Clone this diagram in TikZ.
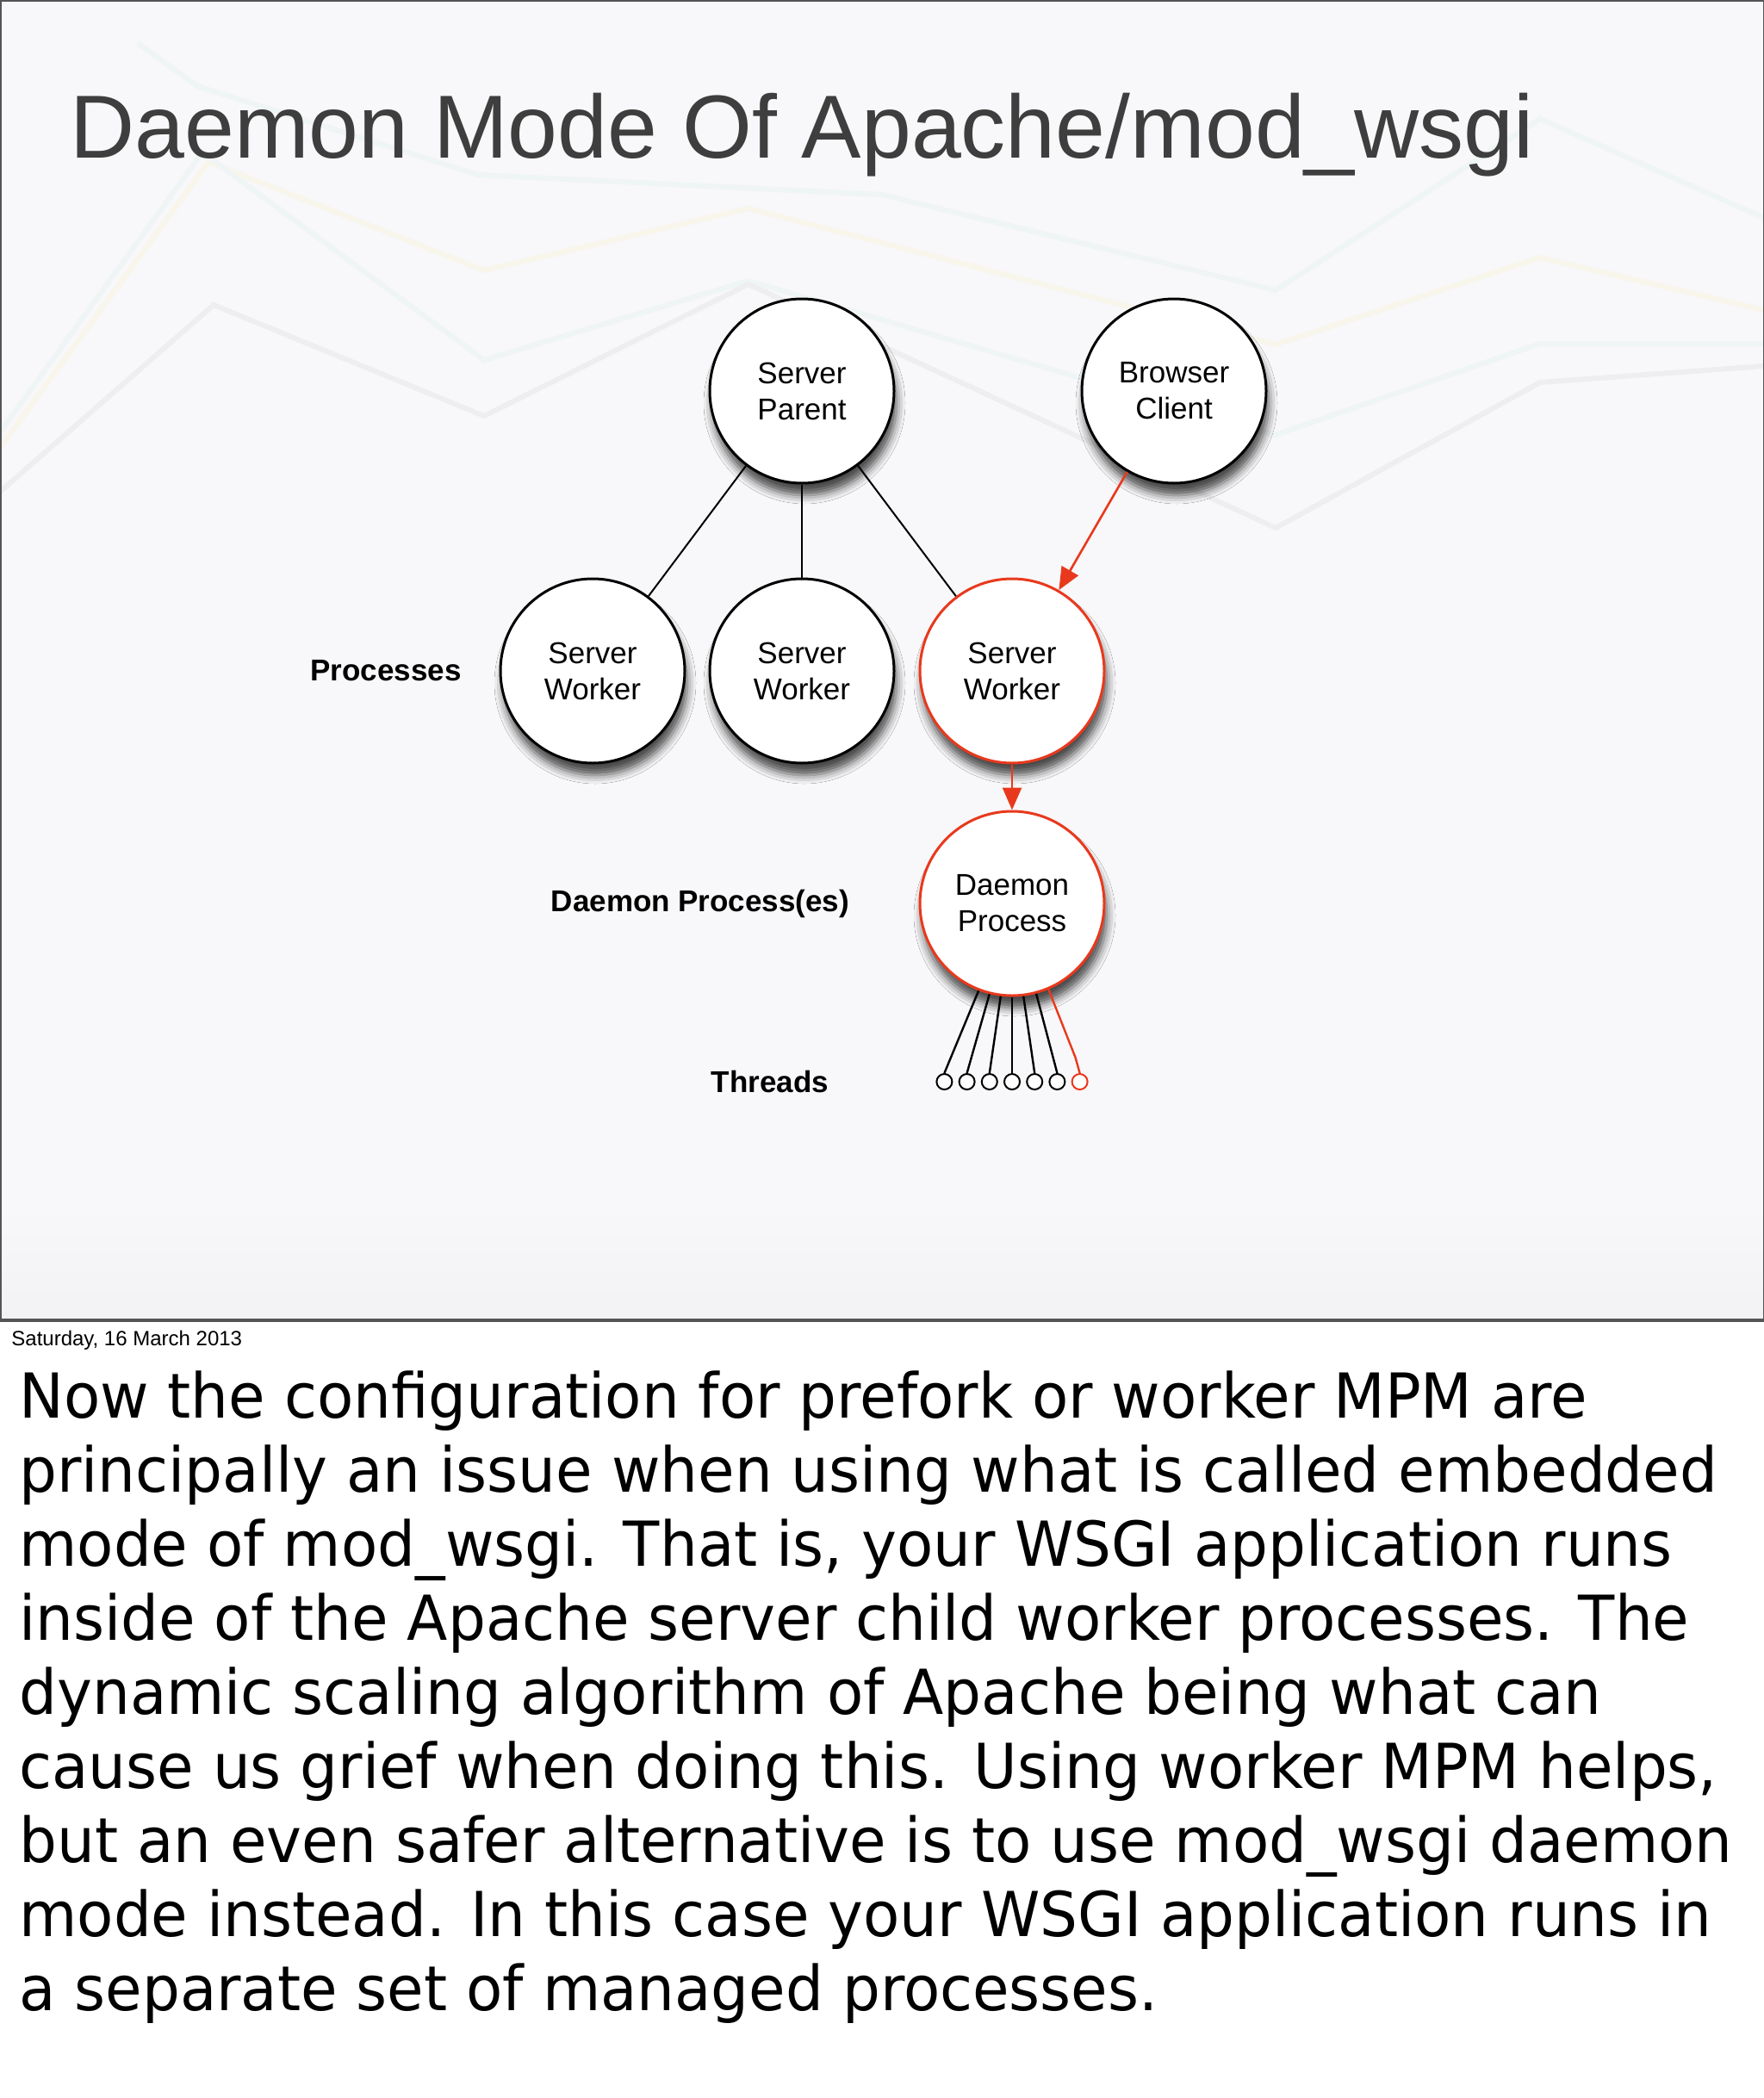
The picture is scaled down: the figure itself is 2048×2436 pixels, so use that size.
\documentclass[tikz,border=0pt]{standalone}
\usepackage{fontspec}
\setmainfont{Liberation Sans}
\newfontfamily\notefont{DejaVu Sans}[FakeStretch=0.96]
\usepackage{tikz}
\usetikzlibrary{arrows.meta,positioning,calc,shadows.blur}
\definecolor{cRed}{HTML}{E8391D}
\definecolor{cSlide}{HTML}{F8F7F9}
\definecolor{cShade}{HTML}{F2F1F3}
\definecolor{cFrame}{HTML}{555555}
\definecolor{cTitle}{HTML}{3E3E3E}
\definecolor{cGrey}{HTML}{EEEDEF}
\definecolor{cCyan}{HTML}{EEF5F4}
\definecolor{cSand}{HTML}{F8F5EB}
\tikzset{
  proc/.style={circle, draw=black, line width=1.5pt, fill=white,
               minimum size=107pt, inner sep=0pt, align=center,
               font=\fontsize{17.5}{21}\selectfont,
               blur shadow={shadow xshift=1.5pt, shadow yshift=-7pt,
                            shadow blur radius=5pt, shadow opacity=70}},
  hot/.style={proc, draw=cRed},
  lbl/.style={font=\fontsize{17.5}{21}\selectfont\bfseries},
  link/.style={line width=1pt, draw=black},
  flow/.style={-{Triangle[length=13pt, width=11pt]}, line width=1.3pt, draw=cRed, fill=cRed},
  thread/.style={circle, draw=#1, line width=1pt, fill=white,
                 minimum size=9pt, inner sep=0pt},
  thread/.default=black,
  tline/.style={line width=1.2pt, draw=#1},
  tline/.default=black,
  deco/.style={line width=3pt, draw=#1},
}

\begin{document}
\begin{tikzpicture}[x=0.5pt, y=-0.5pt, on grid]
  \useasboundingbox (0,0) rectangle (2048,2436);
  \fill[white] (0,0) rectangle (2048,2436);

  % slide background
  \fill[cSlide] (0,0) rectangle (2048,1535);
  \shade[top color=cSlide, bottom color=cShade] (0,1400) rectangle (2048,1533);
  \draw[deco=cSand] (0,520) -- (242,188) -- (562,314) -- (869,242) -- (1481,400) -- (1788,299) -- (2048,360);
  \draw[deco=cCyan] (0,502) -- (235,177) -- (562,418) -- (869,326) -- (1481,505) -- (1788,399) -- (2048,399);
  \draw[deco=cCyan] (160,50) -- (229,100) -- (555,203) -- (1024,226) -- (1481,337) -- (1788,138) -- (2048,253);
  \draw[deco=cGrey] (0,571) -- (248,354) -- (562,483) -- (869,330) -- (1481,613) -- (1788,444) -- (2048,425);
  \draw[cFrame, line width=1pt] (0.5,0.5) rectangle (2047.5,1534);
  \draw[cFrame, line width=2pt] (0,1533) -- (2048,1533);

  \node[anchor=base west, inner sep=0pt, text=cTitle, font=\fontsize{52}{60}\selectfont] (title) at (81,183) {Daemon Mode Of Apache/mod\_wsgi};

  % processes
  \node[proc] (parent) at (931,454) {Server\\Parent};
  \node[proc, right=216pt of parent] (client) {Browser\\Client};
  \node[proc, below=162.5pt of parent] (worker2) {Server\\Worker};
  \node[proc, left=121.5pt of worker2] (worker1) {Server\\Worker};
  \node[hot, right=122pt of worker2] (worker3) {Server\\Worker};
  \node[hot, below=135pt of worker3] (daemon) {Daemon\\Process};
  \foreach \i/\c in {1/black,2/black,3/black,4/black,5/black,6/black,7/cRed}
    \node[thread=\c] (thr\i) at ([xshift={(\i-4)*13.1pt}, yshift=-103.5pt]daemon.center) {};

  \node[lbl, left=120pt of worker1] (lblproc) {Processes};
  \node[lbl, left=181pt of daemon] (lbldaemon) {Daemon Process(es)};
  \node[lbl, left=140.5pt of thr4] (lblthr) {Threads};

  \draw[link] (parent) -- (worker1);
  \draw[link] (parent) -- (worker2);
  \draw[link] (parent) -- (worker3);
  \draw[flow] (client) -- (worker3);
  \draw[flow] (worker3) -- (daemon);
  \foreach \a [count=\i] in {249,256,263,270,277,285}
    \draw[tline] (daemon.\a) -- (thr\i.north);
  \draw[tline=cRed] (daemon.293) -- ($(thr7.north)+(-2.5pt,9pt)$) -- (thr7.north);

  % notes below the slide
  \node[anchor=base west, inner sep=0pt, font=\fontsize{12}{14}\selectfont] (date) at (13,1562) {Saturday, 16 March 2013};
  \node[anchor=north west, inner sep=0pt, align=left, font=\notefont\fontsize{36}{43}\selectfont] (notes) at (22,1591)
    {Now the configuration for prefork or worker MPM are\\
     principally an issue when using what is called embedded\\
     mode of mod\_wsgi. That is, your WSGI application runs\\
     inside of the Apache server child worker processes. The\\
     dynamic scaling algorithm of Apache being what can\\
     cause us grief when doing this. Using worker MPM helps,\\
     but an even safer alternative is to use mod\_wsgi daemon\\
     mode instead. In this case your WSGI application runs in\\
     a separate set of managed processes.};
\end{tikzpicture}
\end{document}
